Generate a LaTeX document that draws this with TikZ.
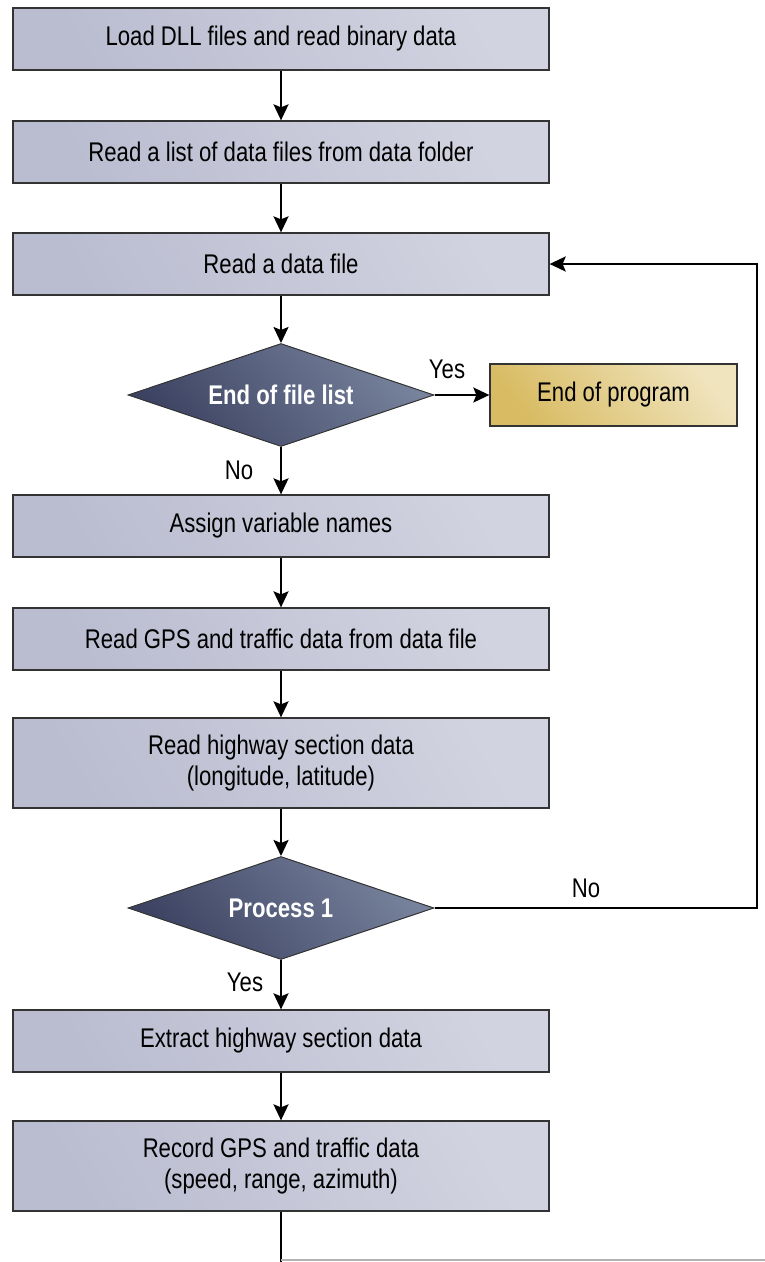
\documentclass[tikz,border=0pt]{standalone}
\usepackage{fontspec}
\setmainfont{Liberation Sans}[FakeStretch=0.82]
\usetikzlibrary{shapes.geometric,arrows.meta}
\definecolor{boxlight}{HTML}{D2D3E0}
\definecolor{boxdark}{HTML}{BABCD0}
\definecolor{dialight}{HTML}{77829C}
\definecolor{diadark}{HTML}{3C4362}
\definecolor{goldlight}{HTML}{F0E4BE}
\definecolor{golddark}{HTML}{D8BB62}
\definecolor{edge}{HTML}{333333}
\begin{document}
\begin{tikzpicture}[x=1pt,y=-1pt,
  every node/.style={font=\fontsize{27}{31}\selectfont},
  stepbox/.style={rectangle,draw=edge,line width=1.3pt,minimum width=536pt,minimum height=62pt,inner sep=0pt,align=center,
    top color=boxlight,bottom color=boxdark,shading angle=-60},
  tallbox/.style={stepbox,minimum height=90pt},
  decision/.style={diamond,draw=edge,line width=1pt,minimum width=306pt,minimum height=103pt,inner sep=0pt,
    top color=dialight,bottom color=diadark,shading angle=-50},
  dtext/.style={text=white,font=\fontsize{27}{31}\selectfont\bfseries,inner sep=0pt},
  endbox/.style={rectangle,draw=edge,line width=1.3pt,minimum width=247pt,minimum height=62pt,inner sep=0pt,
    top color=goldlight,bottom color=golddark,shading angle=-50},
  flow/.style={line width=2.2pt,-{Stealth[length=16pt,width=15pt,inset=3pt]}},
  lbl/.style={inner sep=0pt}]
\useasboundingbox (0,0) rectangle (765,1262);
\node[stepbox] (b1) at (281,39) {Load DLL files and read binary data};
\node[stepbox] (b2) at (281,152) {Read a list of data files from data folder};
\node[stepbox] (b3) at (281,264) {Read a data file};
\node[decision,label={[dtext]center:End of file list}] (d1) at (281,395) {};
\node[endbox] (eop) at (613.5,395) {End of program};
\node[stepbox] (b4) at (281,526) {Assign variable names};
\node[stepbox] (b5) at (281,639) {Read GPS and traffic data from data file};
\node[tallbox] (b6) at (281,763) {Read highway section data\\(longitude, latitude)};
\node[decision,label={[dtext]center:Process 1}] (d2) at (281,908) {};
\node[stepbox] (b7) at (281,1041) {Extract highway section data};
\node[tallbox] (b8) at (281,1166) {Record GPS and traffic data\\(speed, range, azimuth)};
\coordinate (r) at (757,908);
\coordinate (bot) at (281,1262);
\coordinate (botr) at (765,1260);
\draw[flow] (b1) -- (b2);
\draw[flow] (b2) -- (b3);
\draw[flow] (b3) -- (d1);
\draw[flow] (d1.east) -- (eop.west);
\draw[flow] (d1) -- (b4);
\draw[flow] (b4) -- (b5);
\draw[flow] (b5) -- (b6);
\draw[flow] (b6) -- (d2);
\draw[flow] (d2) -- (b7);
\draw[flow] (b7) -- (b8);
\draw[flow] (d2.east) -- (r) |- (b3.east);
\draw[line width=2.2pt] (b8.south) -- (bot);
\draw[line width=1.5pt,color=black!30] (bot |- botr) -- (botr);
\node[lbl] (yes1) at (447,369) {Yes};
\node[lbl] (no1) at (239,470) {No};
\node[lbl] (no2) at (586,888) {No};
\node[lbl] (yes2) at (245,982) {Yes};
\end{tikzpicture}
\end{document}
